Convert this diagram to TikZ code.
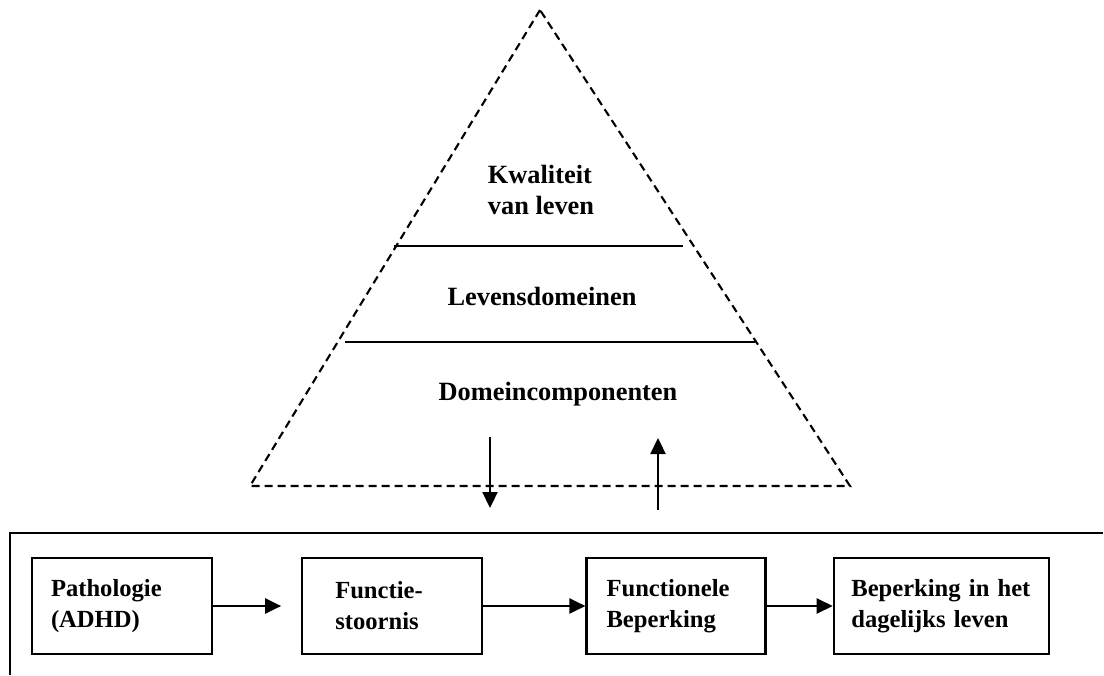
\documentclass[tikz,border=0pt]{standalone}
\usepackage{fontspec}
\setmainfont{Liberation Serif}
\usetikzlibrary{positioning,arrows.meta}

\begin{document}
\begin{tikzpicture}[
    blok/.style={draw, line width=1.3pt, minimum height=1.92cm, align=left, inner sep=0pt,
        font=\fontsize{14}{17.6}\selectfont\bfseries},
    laag/.style={align=left, font=\fontsize{15}{18}\selectfont\bfseries},
    pijl/.style={-{Triangle[length=0.32cm,width=0.3cm]}, line width=1.3pt}
]
    \useasboundingbox (0,0) rectangle (22.08,13.5);

    % pyramid
    \draw[dash pattern=on 0.16cm off 0.1cm, line width=1.2pt] (10.8,13.3) -- (5.0,3.78) -- (17.0,3.78) -- cycle;
    \draw[line width=1.3pt] (7.88,8.58) -- (13.66,8.58);
    \draw[line width=1.3pt] (6.9,6.66) -- (15.1,6.66);
    \node[laag] (kwaliteit) at (10.82,9.7) {Kwaliteit\\van leven};
    \node[laag] (domeinen) at (10.84,7.58) {Levensdomeinen};
    \node[laag] (componenten) at (11.16,5.62) {Domeincomponenten};

    \coordinate (neer1) at (9.8,4.76);
    \coordinate (neer2) at (9.8,3.34);
    \coordinate (op1) at (13.16,3.3);
    \coordinate (op2) at (13.16,4.74);
    \draw[pijl] (neer1) -- (neer2);
    \draw[pijl] (op1) -- (op2);

    % frame
    \draw[line width=1.3pt] (0.2,0) -- (0.2,2.84) -- (22.06,2.84);

    % chain
    \node[blok, minimum width=3.6cm, text width=2.84cm] (patho) at (2.44,1.38) {Pathologie\\(ADHD)};
    \node[blok, minimum width=3.6cm, text width=2.28cm, right=1.76cm of patho] (stoornis) {Functie-\\stoornis};
    \node[blok, minimum width=3.58cm, text width=2.78cm, right=2.04cm of stoornis] (functioneel) {Functionele\\Beperking};
    \node[blok, minimum width=4.3cm, text width=3.6cm, right=1.32cm of functioneel] (dagelijks) {Beperking in het\\dagelijks leven};

    \draw[pijl, shorten >=0.4cm] (patho.east) -- (stoornis.west);
    \draw[pijl] (stoornis.east) -- (functioneel.west);
    \draw[pijl] (functioneel.east) -- (dagelijks.west);
\end{tikzpicture}
\end{document}
